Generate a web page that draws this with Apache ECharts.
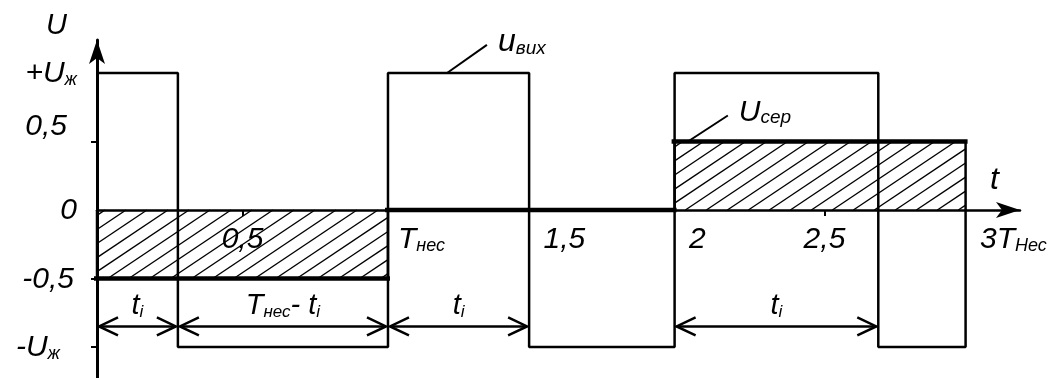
<!DOCTYPE html>
<html>
<head>
<meta charset="utf-8">
<script src="https://cdn.jsdelivr.net/npm/echarts@6/dist/echarts.min.js"></script>
<style>
  html, body { margin: 0; padding: 0; background: #fff; }
  #chart { width: 1054px; height: 378px; }
</style>
</head>
<body>
<div id="chart"></div>
<script>
// моменти перемикання вихідної напруги (у періодах Tнес)
const pulseStart = [0, 1.0, 1.985];
const pulseEnd = [0.278, 1.485, 2.685];
const periodEnd = [1.0, 1.985, 2.985];
const levelHigh = 1;   // +Uж
const levelLow = -1;   // -Uж
// середня напруга за кожен період
const avgLevel = [-0.5, 0, 0.5];

// підписи осей
const yTickValues = [1, 0.5, 0, -0.5, -1];
const yTickLabels = ['+U_ж', '0,5', '0', '-0,5', '-U_ж'];
const yTickMarks = [0.5, -0.5, -1];
const xMidValues = [0.5, 2.5];
const xMidLabels = ['0,5', '2,5'];
const xEdgeValues = [1, 1.5, 2, 3];
const xEdgeLabels = ['T_нес', '1,5', '2', '3T_Нес'];

// розмірні стрілки
const dimFrom = [0, 0.278, 1.0, 1.985];
const dimTo = [0.278, 1.0, 1.485, 2.685];
const dimLabels = ['t_i', 'T_нес- t_i', 't_i', 't_i'];
const dimLevel = -0.85;

// виноски
const calloutText = ['u_вих', 'U_сер'];
const calloutFrom = [[1.203, 1.0], [2.031, 0.5]];
const calloutTo = [[1.340, 1.205], [2.168, 0.69]];

const FONT = "'Liberation Sans', Arial, sans-serif";
const INK = '#000';

function richStyles(big, small) {
  return {
    m: { fontFamily: FONT, fontStyle: 'italic', fontSize: big, color: INK, lineHeight: big + 2, verticalAlign: 'bottom' },
    u: { fontFamily: FONT, fontStyle: 'italic', fontSize: big, color: INK, lineHeight: big + 2, verticalAlign: 'bottom', padding: [0, 0, 16, 0] },
    s: { fontFamily: FONT, fontStyle: 'italic', fontSize: small, color: INK, lineHeight: small - 4, verticalAlign: 'bottom' },
    g3: { width: 3 }, g10: { width: 10 }, g17: { width: 17 }
  };
}
// "T_нес- t_i" -> rich text with subscripts
function toRich(str, tok) {
  const t = tok || 'm';
  const out = '{' + t + '|' + str.replace(/_([^\s\-]+)/g, '}{s|$1}{' + t + '|') + '}';
  return out.replace(new RegExp('\\{' + t + '\\|\\}', 'g'), '');
}
function pick(values, labels, tails, toks) {
  return function (v) {
    for (let i = 0; i < values.length; i++) {
      if (Math.abs(values[i] - v) < 1e-6) {
        return toRich(labels[i], toks && toks[i]) + (tails && tails[i] ? '{' + tails[i] + '|}' : '');
      }
    }
    return '';
  };
}

// дані
const wave = [];
for (let i = 0; i < pulseStart.length; i++) {
  wave.push([pulseStart[i], levelHigh], [pulseEnd[i], levelHigh],
            [pulseEnd[i], levelLow], [periodEnd[i], levelLow]);
}
wave.push([periodEnd[periodEnd.length - 1], 0]);

const periods = avgLevel.map((a, i) => [pulseStart[i], periodEnd[i], a]);
const dims = dimFrom.map((f, i) => [f, dimTo[i], dimLevel]);
const callouts = calloutFrom.map((f, i) => [f[0], f[1], calloutTo[i][0], calloutTo[i][1]]);

const HATCH_SLOPE = 0.67;
const HATCH_STEP = 21;

function renderPeriod(params, api) {
  const a = api.coord([api.value(0), 0]);
  const b = api.coord([api.value(1), api.value(2)]);
  const left = a[0], right = b[0];
  const top = Math.min(a[1], b[1]), bottom = Math.max(a[1], b[1]);
  const h = bottom - top;
  const children = [];
  if (h > 0.5) {
    const run = h / HATCH_SLOPE;
    for (let c = left - run + 8; c < right; c += HATCH_STEP) {
      const t0 = Math.max(0, (left - c) / run);
      const t1 = Math.min(1, (right - c) / run);
      if (t1 <= t0) continue;
      children.push({
        type: 'line',
        shape: { x1: c + t0 * run, y1: bottom - t0 * h, x2: c + t1 * run, y2: bottom - t1 * h },
        style: { stroke: INK, lineWidth: 1.4 }
      });
    }
    children.push({ type: 'line', shape: { x1: left, y1: top, x2: left, y2: bottom }, style: { stroke: INK, lineWidth: 2.5 } });
    children.push({ type: 'line', shape: { x1: right, y1: top, x2: right, y2: bottom }, style: { stroke: INK, lineWidth: 2.5 } });
  }
  children.push({
    type: 'line',
    shape: { x1: left - 3, y1: b[1], x2: right + 2, y2: b[1] },
    style: { stroke: INK, lineWidth: 4.5 }
  });
  return { type: 'group', children: children };
}

function renderDim(params, api) {
  const a = api.coord([api.value(0), api.value(2)]);
  const b = api.coord([api.value(1), api.value(2)]);
  const x1 = a[0] + 2, x2 = b[0] - 2, y = a[1];
  const L = 19, W = 9;
  const st = { stroke: INK, lineWidth: 2.5, fill: null };
  return {
    type: 'group',
    children: [
      { type: 'line', shape: { x1: x1, y1: y, x2: x2, y2: y }, style: st },
      { type: 'polyline', shape: { points: [[x1 + L, y - W], [x1, y], [x1 + L, y + W]] }, style: st },
      { type: 'polyline', shape: { points: [[x2 - L, y - W], [x2, y], [x2 - L, y + W]] }, style: st },
      {
        type: 'text',
        style: {
          text: toRich(dimLabels[params.dataIndex]), rich: richStyles(29, 17),
          x: (x1 + x2) / 2, y: y - 6, align: 'center', verticalAlign: 'bottom',
          textAlign: 'center', textVerticalAlign: 'bottom'
        }
      }
    ]
  };
}

function renderCallout(params, api) {
  const a = api.coord([api.value(0), api.value(1)]);
  const b = api.coord([api.value(2), api.value(3)]);
  const big = params.dataIndex === 0 ? 32 : 30;
  return {
    type: 'group',
    children: [
      { type: 'line', shape: { x1: a[0], y1: a[1], x2: b[0], y2: b[1] }, style: { stroke: INK, lineWidth: 2 } },
      {
        type: 'text',
        style: {
          text: toRich(calloutText[params.dataIndex]), rich: richStyles(big, 19),
          x: b[0] + 11, y: b[1] - 4, align: 'left', verticalAlign: 'middle',
          textAlign: 'left', textVerticalAlign: 'middle'
        }
      }
    ]
  };
}

const X_MAX = 3.172;
const Y_MIN = -1.226, Y_MAX = 1.241;
// the time axis sits on U = 0: a second grid ends exactly there
const ZERO_FROM_BOTTOM = Math.round(338 * (0 - Y_MIN) / (Y_MAX - Y_MIN));

const chart = echarts.init(document.getElementById('chart'));
chart.setOption({
  animation: false,
  backgroundColor: '#fff',
  grid: [
    { left: 97, right: 34, top: 40, bottom: 0, containLabel: false, outerBoundsMode: 'none' },
    { left: 97, right: 34, top: 40, bottom: ZERO_FROM_BOTTOM, containLabel: false, outerBoundsMode: 'none' }
  ],
  xAxis: [
    { type: 'value', gridIndex: 0, min: 0, max: X_MAX, show: false },
    {
      type: 'value', gridIndex: 1, min: 0, max: X_MAX, position: 'bottom',
      axisLine: { onZero: false, symbol: ['none', 'arrow'], symbolSize: [12, 24], lineStyle: { color: INK, width: 2.5 } },
      axisTick: { show: true, customValues: xMidValues, length: 6, lineStyle: { color: INK, width: 2 } },
      axisLabel: { customValues: xMidValues, formatter: pick(xMidValues, xMidLabels), rich: richStyles(30, 18), margin: 13, align: 'center' },
      splitLine: { show: false },
      name: 't', nameLocation: 'end', nameGap: -30,
      nameTextStyle: { fontFamily: FONT, fontStyle: 'italic', fontSize: 32, color: INK, verticalAlign: 'bottom', lineHeight: 60 }
    },
    {
      type: 'value', gridIndex: 1, min: 0, max: X_MAX, position: 'bottom',
      axisLine: { show: false, onZero: false },
      axisTick: { show: false },
      axisLabel: { customValues: xEdgeValues, formatter: pick(xEdgeValues, xEdgeLabels), rich: richStyles(30, 18), margin: 13, align: 'left', padding: [0, 0, 0, 10] },
      splitLine: { show: false }
    }
  ],
  yAxis: [
    {
      type: 'value', gridIndex: 0, min: Y_MIN, max: Y_MAX,
      axisLine: { onZero: false, symbol: ['none', 'arrow'], symbolSize: [12, 24], lineStyle: { color: INK, width: 3 } },
      axisTick: { show: true, customValues: yTickMarks, length: 6, lineStyle: { color: INK, width: 2 } },
      axisLabel: {
        customValues: yTickValues,
        formatter: pick(yTickValues, yTickLabels, ['', 'g10', '', 'g3', 'g17'], ['m', 'u', 'm', 'm', 'm']),
        rich: richStyles(30, 18), margin: 20
      },
      splitLine: { show: false },
      name: 'U', nameLocation: 'end', nameGap: 0,
      nameTextStyle: { fontFamily: FONT, fontStyle: 'italic', fontSize: 29, color: INK, align: 'right', verticalAlign: 'bottom', padding: [0, 30, 0, 0] }
    },
    { type: 'value', gridIndex: 1, min: 0, max: 1, show: false }
  ],
  series: [
    {
      type: 'custom', name: 'Uсер', coordinateSystem: 'cartesian2d', xAxisIndex: 0, yAxisIndex: 0,
      encode: { x: [0, 1], y: 2 }, data: periods, renderItem: renderPeriod, z: 2, silent: true
    },
    {
      type: 'line', name: 'uвих', xAxisIndex: 0, yAxisIndex: 0, data: wave, symbol: 'none',
      lineStyle: { color: INK, width: 2.5 }, z: 3, silent: true
    },
    {
      type: 'custom', name: 'ti', coordinateSystem: 'cartesian2d', xAxisIndex: 0, yAxisIndex: 0,
      encode: { x: [0, 1], y: 2 }, data: dims, renderItem: renderDim, z: 4, silent: true
    },
    {
      type: 'custom', name: 'callouts', coordinateSystem: 'cartesian2d', xAxisIndex: 0, yAxisIndex: 0,
      encode: { x: [0, 2], y: [1, 3] }, data: callouts, renderItem: renderCallout, z: 4, silent: true
    }
  ]
});
</script>
</body>
</html>
